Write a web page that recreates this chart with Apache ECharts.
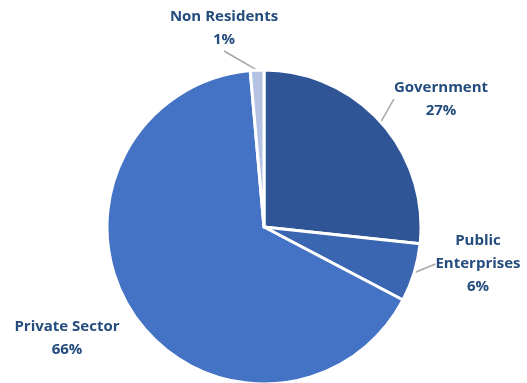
<!DOCTYPE html>
<html><head><meta charset="utf-8">
<script src="https://cdn.jsdelivr.net/npm/echarts@6/dist/echarts.min.js"></script>
<style>html,body{margin:0;padding:0;background:#fff}#c{width:527px;height:383px}</style>
</head><body><div id="c"></div>
<script>
var categories = ['Government', 'Public\nEnterprises', 'Private Sector', 'Non Residents'];
var values = [26.7, 6.0, 65.9, 1.4];
var labelsPct = ['27%', '6%', '66%', '1%'];
var colors = ['#2F5597', '#3A65B1', '#4472C4', '#B4C3E3'];
var showLine = [true, true, false, true];
var labelPos = [[441, 99], [478, 264], [67, 338], [224, 28]];

var chart = echarts.init(document.getElementById('c'));
chart.setOption({
  animation: false,
  series: [{
    type: 'pie',
    center: [264, 227],
    radius: 157,
    startAngle: 90,
    clockwise: true,
    data: categories.map(function (c, i) {
      return { name: c, value: values[i], itemStyle: { color: colors[i] }, labelLine: { show: showLine[i] } };
    }),
    itemStyle: { borderColor: '#fff', borderWidth: 3 },
    label: {
      show: true,
      formatter: function (p) { return p.name + '\n' + labelsPct[p.dataIndex]; },
      color: '#244C7E',
      fontFamily: 'Open Sans',
      fontWeight: 'bold',
      fontSize: 15,
      lineHeight: 23,
      align: 'center'
    },
    labelLine: { show: true, length: 8, length2: 0, lineStyle: { color: '#A6A6A6', width: 1.5 } },
    labelLayout: function (p) {
      var pos = labelPos[p.dataIndex];
      return { x: pos[0], y: pos[1], align: 'center', verticalAlign: 'middle' };
    }
  }]
});
</script></body></html>
